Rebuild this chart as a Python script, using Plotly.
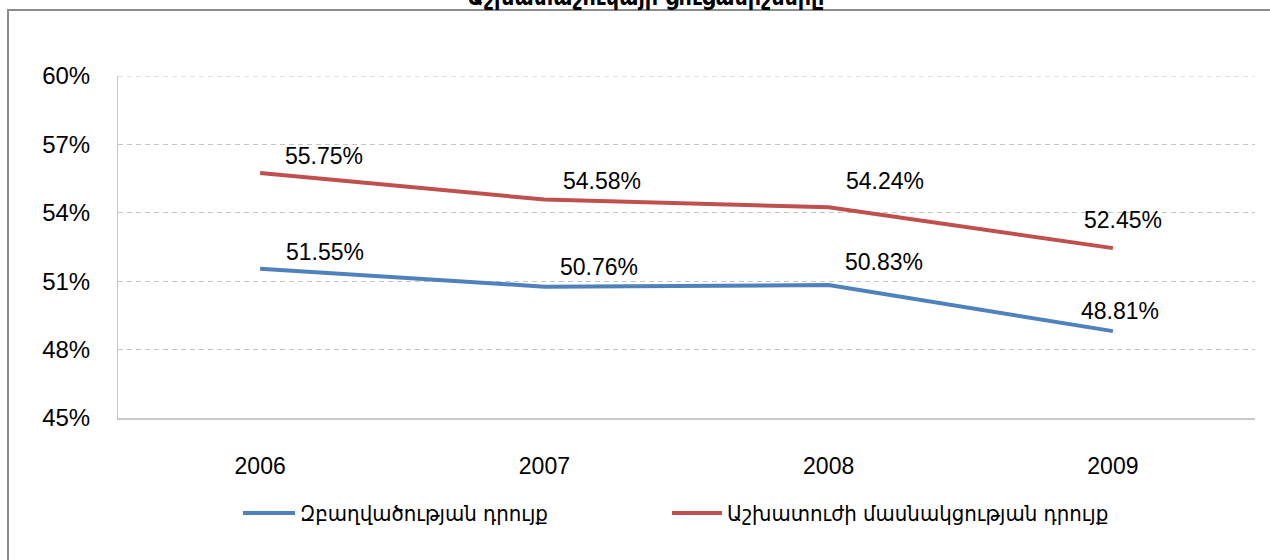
import plotly.graph_objects as go

years = ["2006", "2007", "2008", "2009"]
employment = [51.55, 50.76, 50.83, 48.81]
participation = [55.75, 54.58, 54.24, 52.45]
name_emp = "Զբաղվածության դրույք"
name_part = "Աշխատուժի մասնակցության դրույք"
title_text = "Աշխատաշուկայի ցուցանիշները"
y_ticks = [45, 48, 51, 54, 57, 60]

BLUE = "#4F81BD"
RED = "#C0504D"
GRID = "#c4c4c4"
NUM_FONT = "Liberation Sans, Arial"
ARM_FONT = "DejaVu Sans Condensed, DejaVu Sans"

# plot-area geometry (pixels)
L, R, T, B = 118, 15, 76, 142
W, H = 1270, 560
PW, PH = W - L - R, H - T - B


def px_x(px):
    return (px - L) / PW


def px_y(py):
    return (H - B - py) / PH


xi = list(range(len(years)))
fig = go.Figure()
fig.add_trace(go.Scatter(x=xi, y=employment, mode="lines", name=name_emp,
                         line=dict(color=BLUE, width=4), showlegend=False))
fig.add_trace(go.Scatter(x=xi, y=participation, mode="lines", name=name_part,
                         line=dict(color=RED, width=4), showlegend=False))

# data label offsets (pixels) per point
emp_off = [(65, 17), (55, 20), (55, 23), (7, 20)]
part_off = [(64, 17), (58, 19), (56, 26), (10, 28)]
for vals, offs in ((employment, emp_off), (participation, part_off)):
    for i, v in enumerate(vals):
        fig.add_annotation(x=xi[i], y=v, text=f"{v:.2f}%", showarrow=False,
                           xshift=offs[i][0], yshift=offs[i][1],
                           font=dict(size=23, color="#000", family=NUM_FONT))

# title (partly cut off at top, as in the reference)
fig.add_annotation(xref="paper", yref="paper", x=px_x(645), y=px_y(-3), text=f"<b>{title_text}</b>",
                   showarrow=False, yanchor="middle", xanchor="center",
                   font=dict(size=23, color="#000", family=ARM_FONT))

# outer chart border
fig.add_shape(type="rect", xref="paper", yref="paper", x0=px_x(8), x1=px_x(1300),
              y0=px_y(600), y1=px_y(10),
              line=dict(color="#8c8c8c", width=2), fillcolor="rgba(0,0,0,0)", layer="below")

# top gridline (at the 60% tick)
fig.add_shape(type="line", xref="paper", yref="y", x0=0, x1=1, y0=y_ticks[-1], y1=y_ticks[-1],
              line=dict(color=GRID, width=1, dash="5px,4px"), layer="below")

# legend (drawn manually to match the reference layout)
legend_items = [(name_emp, BLUE, 243, 295), (name_part, RED, 672, 722)]
for name, col, x0, x1 in legend_items:
    fig.add_shape(type="line", xref="paper", yref="paper", x0=px_x(x0), x1=px_x(x1),
                  y0=px_y(513), y1=px_y(513), line=dict(color=col, width=4))
    fig.add_annotation(xref="paper", yref="paper", x=px_x(x1 + 3), y=px_y(513), text=name,
                       showarrow=False, xanchor="left", yanchor="middle",
                       font=dict(size=22, color="#000", family=ARM_FONT))

fig.update_layout(
    width=W, height=H,
    margin=dict(l=L, r=R, t=T, b=B),
    paper_bgcolor="white", plot_bgcolor="white",
    showlegend=False,
    xaxis=dict(range=[-0.5, 3.5], tickvals=xi, ticktext=years, showgrid=False, showline=True,
               linecolor="#c8c8c8", linewidth=2, ticks="", ticklabelstandoff=26,
               zeroline=False,
               tickfont=dict(size=23, color="#000", family=NUM_FONT)),
    yaxis=dict(range=[45, 60], tickvals=y_ticks, ticktext=[f"{t}%" for t in y_ticks],
               showgrid=True, gridcolor=GRID, griddash="5px,4px", gridwidth=1,
               showline=True, linecolor="#c8c8c8", linewidth=1, ticks="",
               zeroline=False, ticklabelstandoff=22,
               tickfont=dict(size=24, color="#000", family=NUM_FONT)),
)

fig.write_html("out.html", config={"displayModeBar": False},
               post_script="document.body.style.margin='0';")
